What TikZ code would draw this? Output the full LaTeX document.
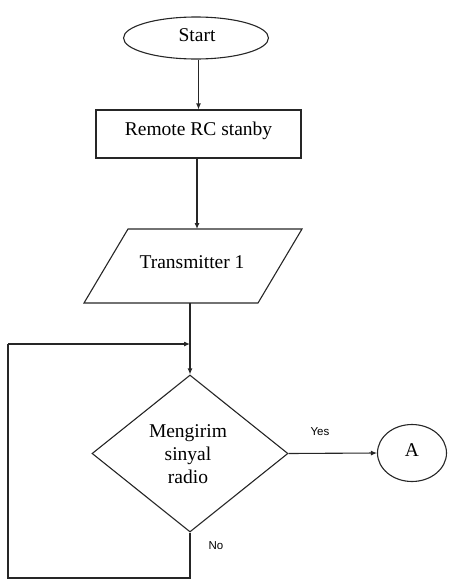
\documentclass[tikz,border=0pt]{standalone}
\usepackage{fontspec}
\setmainfont{Liberation Serif}
\newfontfamily\serfont{Liberation Serif}
\newfontfamily\labfont{Liberation Sans}
\usetikzlibrary{shapes.geometric,arrows.meta}
\begin{document}
\begin{tikzpicture}[x=1pt,y=-1pt,
  every node/.style={inner sep=0pt},
  shp/.style={draw=black!85,line width=1.1pt},
  txt/.style={font=\serfont\fontsize{19.5}{23}\selectfont,align=center},
  lab/.style={font=\labfont\fontsize{11.5}{13}\selectfont},
  conn/.style={draw=black!85,line width=1.1pt},
  arr/.style={conn,-{Latex[length=6pt,width=5pt]}}]
\useasboundingbox (0,0) rectangle (449,579);
% Start
\node[shp,ellipse,minimum width=145pt,minimum height=42pt] (start) at (196,38) {};
\node[txt] (starttxt) at (197,35) {Start};
% Remote RC stanby
\node[shp,rectangle,minimum width=205pt,minimum height=48pt] (rc) at (198.5,134) {};
\node[txt] (rctxt) at (198.5,131) {Remote RC stanby};
% Transmitter 1 (parallelogram)
\coordinate (p1) at (84,303);
\coordinate (p2) at (128,229);
\coordinate (p3) at (302,229);
\coordinate (p4) at (258,303);
\draw[shp] (p1) -- (p2) -- (p3) -- (p4) -- cycle;
\coordinate (ptop) at (197,229);
\coordinate (pbot) at (190,303);
\node[txt] (tx) at (192,262) {Transmitter 1};
% Decision
\node[shp,diamond,minimum width=196pt,minimum height=157pt] (dec) at (190,453.5) {};
\node[txt] (dectxt) at (188,454) {Mengirim\\sinyal\\radio};
% Connector A
\node[shp,ellipse,minimum width=69pt,minimum height=57pt] (A) at (412,453) {};
\node[txt] (Atxt) at (412,450) {A};
% connectors
\draw[arr] (start.south -| rc.north) -- (rc.north);
\draw[arr] (rc.south -| ptop) -- (ptop);
\draw[arr] (pbot) -- (dec.north);
\coordinate (c1) at (190,578);
\coordinate (c2) at (8,578);
\coordinate (c3) at (8,344);
\coordinate (c4) at (190,344);
\draw[conn] (dec.south) -- (c1) -- (c2) -- (c3);
\draw[arr] (c3) -- (c4);
\draw[arr] (dec.east) -- (A.west);
\node[lab] (yes) at (320,432) {Yes};
\node[lab] (no) at (216,546) {No};
\end{tikzpicture}
\end{document}
